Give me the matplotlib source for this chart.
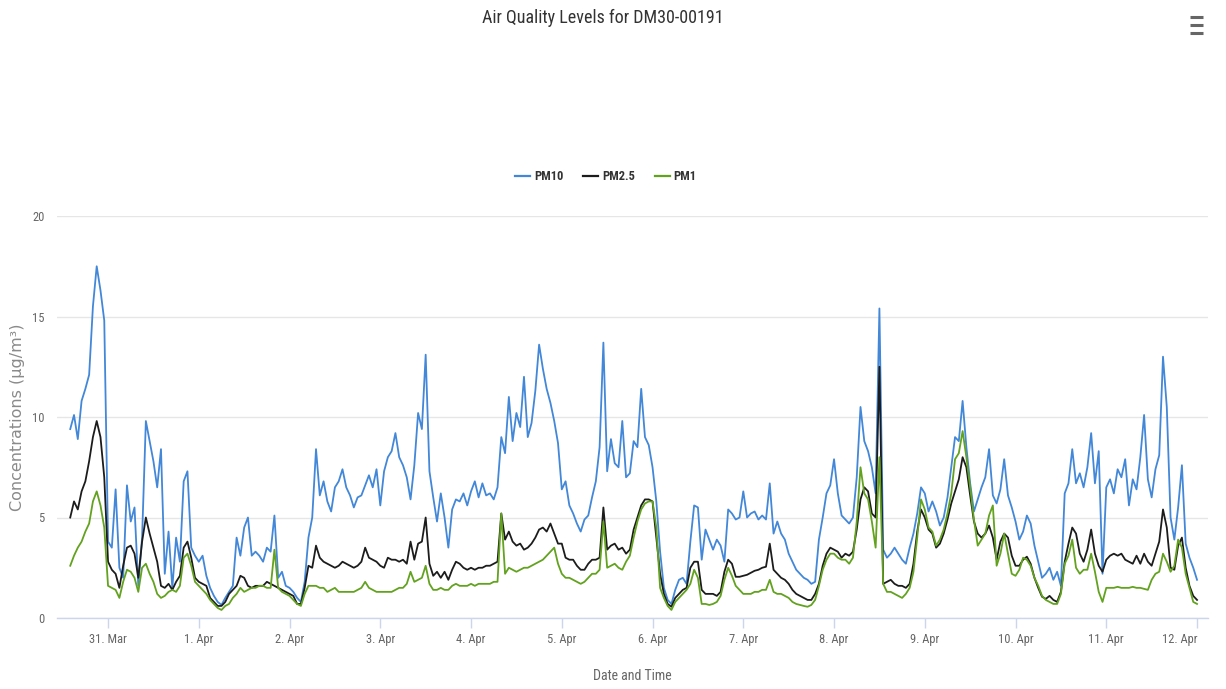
import matplotlib
matplotlib.use("Agg")
import matplotlib.pyplot as plt
import pandas as pd
from matplotlib import font_manager as fm
from matplotlib.lines import Line2D

# Hourly concentrations (µg/m³), starting 30 Mar 14:00
pm10 = [
    9.4, 10.1, 8.9, 10.8, 11.4, 12.1, 15.5, 17.5, 16.3, 14.8,
    3.8, 3.5, 6.4, 2.5, 2.0, 6.6, 4.8, 5.5, 1.6, 4.0,
    9.8, 8.8, 7.8, 6.5, 8.4, 2.2, 4.3, 1.5, 4.0, 2.8,
    6.8, 7.3, 3.5, 3.1, 2.8, 3.1, 2.1, 1.5, 1.1, 0.8,
    0.65, 1.0, 1.3, 1.6, 4.0, 3.1, 4.5, 5.0, 3.1, 3.3,
    3.1, 2.8, 3.5, 3.3, 5.1, 2.0, 2.3, 1.6, 1.5, 1.3,
    1.0, 0.8, 1.8, 4.0, 5.0, 8.4, 6.1, 6.8, 5.8, 5.3,
    6.5, 6.8, 7.4, 6.5, 6.1, 5.5, 6.0, 6.1, 6.6, 7.1,
    6.5, 7.4, 5.6, 7.3, 8.0, 8.3, 9.2, 8.0, 7.6, 7.0,
    5.9, 7.6, 10.2, 9.4, 13.1, 7.3, 6.0, 4.8, 6.2, 5.0,
    3.5, 5.4, 5.9, 5.8, 6.2, 5.6, 6.3, 6.8, 6.0, 6.7,
    6.1, 6.2, 5.9, 6.5, 9.0, 8.2, 11.0, 8.8, 10.2, 9.5,
    12.0, 9.0, 9.7, 11.3, 13.6, 12.4, 11.4, 10.7, 9.8, 8.7,
    6.4, 6.8, 5.6, 5.2, 4.7, 4.3, 4.9, 5.1, 6.0, 6.8,
    8.5, 13.7, 7.3, 8.9, 7.7, 7.5, 9.8, 7.0, 7.2, 8.8,
    8.5, 11.4, 9.0, 8.6, 7.5, 5.8, 3.3, 1.5, 0.9, 0.7,
    1.4, 1.9, 2.0, 1.7, 3.8, 5.6, 5.5, 2.9, 4.4, 3.9,
    3.4, 3.9, 3.6, 2.8, 5.4, 5.2, 4.9, 5.0, 6.3, 5.0,
    5.2, 5.3, 4.9, 5.1, 4.9, 6.7, 4.2, 4.8, 4.2, 3.9,
    3.2, 2.8, 2.4, 2.2, 2.0, 1.9, 1.7, 1.8, 3.9, 5.0,
    6.2, 6.6, 7.9, 6.2, 5.1, 4.9, 4.7, 5.0, 7.0, 10.5,
    8.8, 8.3, 7.5, 6.2, 15.4, 3.4, 3.0, 3.2, 3.5, 3.2,
    2.9, 2.7, 3.5, 4.2, 5.2, 6.5, 6.2, 5.3, 5.8, 5.3,
    4.6, 5.0, 6.0, 7.5, 9.0, 8.8, 10.8, 8.5, 6.7, 5.3,
    5.9, 6.5, 7.0, 8.4, 6.1, 5.7, 6.4, 7.9, 6.1, 5.5,
    4.8, 3.9, 4.3, 5.1, 4.7, 3.6, 2.8, 2.0, 2.2, 2.5,
    1.9, 2.3, 1.6, 6.2, 6.7, 8.4, 6.7, 7.2, 6.5, 7.5,
    9.2, 6.7, 8.3, 2.2, 6.5, 6.9, 6.2, 7.4, 7.0, 7.9,
    5.6, 6.9, 6.4, 8.0, 10.1, 6.9, 6.0, 7.4, 8.1, 13.0,
    10.5, 5.0, 3.9, 5.5, 7.6, 3.7, 3.0, 2.5, 1.9,
]

pm25 = [
    5.0, 5.8, 5.4, 6.3, 6.8, 7.8, 9.0, 9.8, 9.0, 7.0,
    2.8, 2.4, 2.2, 1.5, 2.6, 3.5, 3.6, 3.2, 2.0, 3.8,
    5.0, 4.2, 3.5, 2.8, 1.6, 1.5, 1.7, 1.4, 1.8, 2.1,
    3.5, 3.8, 3.0, 2.0, 1.8, 1.7, 1.6, 1.0, 0.8, 0.6,
    0.6, 0.8, 1.2, 1.4, 1.6, 2.1, 2.0, 1.6, 1.5, 1.6,
    1.6, 1.6, 1.8, 1.7, 1.6, 1.5, 1.4, 1.3, 1.2, 1.1,
    0.7, 0.7, 1.5, 2.6, 2.5, 3.6, 3.0, 2.8, 2.7, 2.6,
    2.5, 2.6, 2.8, 2.7, 2.6, 2.5, 2.6, 2.8, 3.5, 3.0,
    2.9, 2.8, 2.6, 2.5, 3.0, 2.9, 2.9, 2.8, 2.9, 2.7,
    3.8, 2.9, 3.7, 3.8, 5.0, 2.7, 2.1, 2.3, 2.0, 2.3,
    1.9, 2.4, 2.8, 2.7, 2.5, 2.4, 2.5, 2.4, 2.5, 2.5,
    2.6, 2.6, 2.7, 2.8, 5.2, 3.9, 4.3, 3.8, 3.6, 3.7,
    3.4, 3.5, 3.7, 4.0, 4.4, 4.5, 4.3, 4.7, 4.2, 3.7,
    3.7, 3.0, 2.9, 2.9, 2.6, 2.4, 2.4, 2.7, 2.9, 2.9,
    3.0, 5.5, 3.4, 3.6, 3.7, 3.4, 3.5, 3.2, 3.4, 4.4,
    5.0, 5.6, 5.9, 5.9, 5.8, 4.0, 2.2, 1.2, 0.7, 0.56,
    1.0, 1.2, 1.4, 1.5, 2.5, 2.8, 2.8, 1.4, 1.2, 1.2,
    1.2, 1.1, 1.3, 2.3, 2.9, 2.7, 2.05, 2.05, 2.1, 2.15,
    2.25, 2.35, 2.4, 2.5, 2.55, 3.7, 2.4, 2.2, 2.0, 1.9,
    1.7, 1.4, 1.2, 1.1, 1.0, 0.9, 0.9, 1.2, 1.7, 2.6,
    3.2, 3.5, 3.4, 3.3, 3.0, 3.2, 3.1, 3.3, 4.4, 5.9,
    6.5, 6.3, 5.2, 5.0, 12.5, 1.7, 1.8, 1.9, 1.7, 1.6,
    1.6, 1.5, 1.7, 2.7, 4.3, 5.4, 5.0, 4.4, 4.2, 3.5,
    3.7, 4.2, 4.9, 5.7, 6.3, 6.9, 8.0, 7.5, 6.1, 4.8,
    4.2, 4.0, 4.2, 4.6, 4.0, 2.9, 3.8, 4.2, 4.0, 3.1,
    2.6, 2.6, 2.9, 3.05, 2.7, 2.0, 1.5, 1.06, 0.95, 1.1,
    0.9, 0.8, 1.3, 2.8, 3.7, 4.5, 4.2, 3.2, 2.8, 3.4,
    4.4, 3.2, 2.6, 2.3, 2.9, 3.1, 3.2, 3.1, 3.2, 2.9,
    2.8, 2.7, 3.1, 2.7, 3.2, 2.8, 2.6, 3.2, 3.8, 5.4,
    4.5, 2.5, 2.4, 3.6, 4.0, 2.5, 1.6, 1.1, 0.9,
]

pm1 = [
    2.6, 3.1, 3.5, 3.8, 4.3, 4.7, 5.8, 6.3, 5.6, 4.5,
    1.6, 1.5, 1.4, 1.0, 1.8, 2.4, 2.3, 2.0, 1.3, 2.5,
    2.7, 2.2, 1.8, 1.2, 1.0, 1.1, 1.3, 1.4, 1.3, 1.6,
    3.0, 3.2, 2.6, 1.8, 1.6, 1.4, 1.2, 0.9, 0.7, 0.5,
    0.4, 0.6, 0.7, 1.0, 1.2, 1.5, 1.3, 1.4, 1.5, 1.5,
    1.6, 1.6, 1.5, 1.5, 3.4, 1.5, 1.3, 1.2, 1.1, 0.9,
    0.7, 0.6, 1.2, 1.6, 1.6, 1.6, 1.5, 1.5, 1.3, 1.4,
    1.5, 1.3, 1.3, 1.3, 1.3, 1.3, 1.4, 1.5, 1.8, 1.5,
    1.4, 1.3, 1.3, 1.3, 1.3, 1.3, 1.4, 1.5, 1.5, 1.7,
    2.3, 1.8, 1.9, 2.0, 2.6, 1.7, 1.4, 1.4, 1.5, 1.4,
    1.4, 1.6, 1.7, 1.6, 1.6, 1.6, 1.7, 1.6, 1.7, 1.7,
    1.7, 1.7, 1.8, 1.8, 5.2, 2.2, 2.5, 2.4, 2.3, 2.4,
    2.5, 2.5, 2.6, 2.7, 2.8, 2.9, 3.1, 3.3, 3.5, 2.7,
    2.2, 2.0, 2.0, 1.9, 1.8, 1.7, 1.8, 2.0, 2.2, 2.2,
    2.4, 4.8, 2.5, 2.6, 2.7, 2.5, 2.4, 2.8, 3.1, 4.0,
    4.8, 5.4, 5.7, 5.8, 5.8, 4.5, 1.5, 1.0, 0.6, 0.4,
    0.8, 1.0, 1.2, 1.4, 1.7, 2.4, 2.0, 0.7, 0.7, 0.65,
    0.7, 0.8, 1.1, 1.9, 2.5, 2.1, 1.6, 1.4, 1.2, 1.2,
    1.2, 1.3, 1.3, 1.4, 1.4, 1.9, 1.3, 1.2, 1.2, 1.1,
    1.0, 0.8, 0.7, 0.65, 0.6, 0.56, 0.65, 0.9, 1.6, 2.4,
    2.9, 3.2, 3.2, 3.0, 2.9, 2.9, 2.7, 3.0, 4.8, 7.5,
    6.2, 5.9, 4.8, 3.5, 8.0, 1.7, 1.3, 1.3, 1.2, 1.1,
    1.0, 1.2, 1.5, 2.3, 4.0, 5.9, 5.4, 4.5, 4.3, 3.6,
    3.9, 4.4, 5.2, 6.2, 7.9, 8.2, 9.3, 8.0, 6.5, 4.9,
    3.6, 3.9, 4.2, 5.1, 5.6, 2.6, 3.2, 4.2, 3.2, 2.2,
    2.1, 2.4, 3.0, 2.9, 2.6, 2.0, 1.6, 1.1, 0.9, 0.8,
    0.7, 0.7, 1.2, 2.7, 3.1, 3.9, 2.5, 2.2, 2.4, 2.4,
    3.2, 2.3, 1.3, 0.8, 1.5, 1.5, 1.5, 1.55, 1.5, 1.5,
    1.5, 1.55, 1.5, 1.5, 1.45, 1.4, 1.9, 2.2, 2.3, 3.2,
    2.8, 2.3, 2.6, 3.9, 3.5, 2.2, 1.5, 0.8, 0.7,
]

series_names = ["PM10", "PM2.5", "PM1"]
series_colors = ["#4287d8", "#1c1c1c", "#63a21f"]
start_time = "2021-03-30 14:00"
tick_days = pd.date_range("2021-03-31", "2021-04-12", freq="D")
y_ticks = [0, 5, 10, 15, 20]

# Pick a condensed face when one is installed
available = {f.name for f in fm.fontManager.ttflist}
narrow = "DejaVu Sans"
for cand in ["Roboto Condensed", "Liberation Sans Narrow", "Open Sans Condensed",
             "DejaVu Sans Condensed", "Noto Sans Condensed"]:
    if cand in available:
        narrow = cand
        break

W, H = 1226, 689
fig = plt.figure(figsize=(W / 100, H / 100), dpi=100)
fig.patch.set_facecolor("white")

left, right, top, bottom = 57, 1208, 216, 618
ax = fig.add_axes([left / W, 1 - bottom / H, (right - left) / W, (bottom - top) / H])

times = pd.date_range(start_time, periods=len(pm10), freq="h")
for vals, name, col in zip([pm10, pm25, pm1], series_names, series_colors):
    ax.plot(times, vals, color=col, lw=1.3, label=name, solid_joinstyle="round")

ax.set_ylim(0, 20)
ax.set_yticks(y_ticks)
ax.set_xlim(times[0] - pd.Timedelta(hours=3.5), times[-1] + pd.Timedelta(hours=2.9))
ax.set_xticks(tick_days)
labels = [f"{d.day}. {d.strftime('%b')}" for d in tick_days]
ax.set_xticklabels(labels)
ax.get_xticklabels()[-1].set_horizontalalignment("right")

ax.grid(axis="y", color="#e6e6e6", lw=1)
ax.set_axisbelow(True)
for side in ["left", "right", "top"]:
    ax.spines[side].set_visible(False)
ax.spines["bottom"].set_color("#ccd6eb")
ax.spines["bottom"].set_linewidth(1)
ax.tick_params(axis="x", colors="#ccd6eb", length=7, width=1, pad=4,
               labelcolor="#666666", labelsize=9)
ax.tick_params(axis="y", length=0, pad=9, labelcolor="#666666", labelsize=9)
for lab in ax.get_xticklabels() + ax.get_yticklabels():
    lab.set_fontfamily(narrow)

fig.text(603 / W, 1 - 18 / H, "Air Quality Levels for DM30-00191",
         ha="center", va="center", fontsize=13, color="#333333", family=narrow)
fig.text(18 / W, 1 - 417 / H, "Concentrations (µg/m³)", rotation=90,
         ha="center", va="center", fontsize=11.5, color="#8a8a8a", family="DejaVu Sans")
fig.text((left + right) / 2 / W, 1 - 676 / H, "Date and Time",
         ha="center", va="center", fontsize=10, color="#666666", family=narrow)

leg = fig.legend(loc="center", bbox_to_anchor=(606 / W, 1 - 177 / H), ncol=3,
                 frameon=False, handlelength=1.2, handletextpad=0.3, columnspacing=1.6,
                 prop={"family": narrow, "size": 9, "weight": "bold"})
for txt in leg.get_texts():
    txt.set_color("#333333")
for h in leg.get_lines():
    h.set_linewidth(1.6)

# Menu icon in the top-right corner
for yy in (17, 25, 33):
    fig.add_artist(Line2D([1190 / W, 1203 / W], [1 - yy / H, 1 - yy / H],
                          transform=fig.transFigure, color="#666666", lw=2.2,
                          solid_capstyle="butt"))

fig.savefig("out.png", dpi=100, facecolor="white")
